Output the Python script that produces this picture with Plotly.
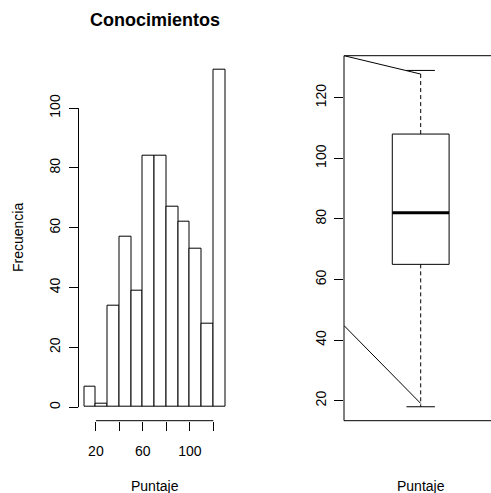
import plotly.graph_objects as go

# ---- data ----
bin_edges = [10, 20, 30, 40, 50, 60, 70, 80, 90, 100, 110, 120, 130]
counts = [7, 1, 34, 57, 39, 84, 84, 67, 62, 53, 28, 113]
hist_xticks = [20, 40, 60, 80, 100, 120]
hist_xticklabels = ["20", "", "60", "", "100", ""]
hist_yticks = [0, 20, 40, 60, 80, 100]

box_min = 18
box_q1 = 65
box_median = 82
box_q3 = 108
box_max = 129
box_yticks = [20, 40, 60, 80, 100, 120]

diag_top_x = [0.46, 1.0]
diag_top_y = [133.86, 127.8]
diag_bot_x = [0.46, 1.0]
diag_bot_y = [44.8, 19.1]

title_text = "Conocimientos"
ylabel_text = "Frecuencia"
xlabel_left = "Puntaje"
xlabel_right = "Puntaje"

# ---- layout constants ----
W, H = 491, 493
FONT = "Liberation Sans, Arial, Helvetica, sans-serif"
top_px, bot_px = 55.7, 420.7
ydom = [1 - bot_px / H, 1 - top_px / H]
xdom1 = [78.5 / W, 230.7 / W]
xdom2 = [344.0 / W, 1.0]

centers = [(a + b) / 2 for a, b in zip(bin_edges[:-1], bin_edges[1:])]
widths = [b - a for a, b in zip(bin_edges[:-1], bin_edges[1:])]

fig = go.Figure()

fig.add_trace(go.Bar(
    x=centers, y=counts, width=widths,
    marker=dict(color="white", line=dict(color="black", width=1)),
    xaxis="x", yaxis="y", showlegend=False, hoverinfo="skip",
))

line_k = dict(color="black", width=1)
bx = 1.0
hw = 0.2
sw = 0.1
# box outline
fig.add_trace(go.Scatter(
    x=[bx - hw, bx + hw, bx + hw, bx - hw, bx - hw],
    y=[box_q1, box_q1, box_q3, box_q3, box_q1],
    mode="lines", line=line_k, xaxis="x2", yaxis="y2", showlegend=False, hoverinfo="skip"))
# median
fig.add_trace(go.Scatter(
    x=[bx - hw, bx + hw], y=[box_median, box_median],
    mode="lines", line=dict(color="black", width=3), xaxis="x2", yaxis="y2", showlegend=False, hoverinfo="skip"))
# whiskers
for y0, y1 in [(box_q3, box_max), (box_q1, box_min)]:
    fig.add_trace(go.Scatter(
        x=[bx, bx], y=[y0, y1], mode="lines",
        line=dict(color="black", width=1, dash="4px,3px"),
        xaxis="x2", yaxis="y2", showlegend=False, hoverinfo="skip"))
# staples
for yv in [box_max, box_min]:
    fig.add_trace(go.Scatter(
        x=[bx - sw, bx + sw], y=[yv, yv], mode="lines", line=line_k,
        xaxis="x2", yaxis="y2", showlegend=False, hoverinfo="skip"))
# diagonal lines
for xs, ys in [(diag_top_x, diag_top_y), (diag_bot_x, diag_bot_y)]:
    fig.add_trace(go.Scatter(
        x=xs, y=ys, mode="lines", line=line_k, cliponaxis=False,
        xaxis="x2", yaxis="y2", showlegend=False, hoverinfo="skip"))

tickfont = dict(family=FONT, size=14, color="black")
common = dict(showgrid=False, zeroline=False, showline=False, ticks="outside",
              ticklen=9, tickwidth=1, tickcolor="black", tickfont=tickfont)

fig.update_layout(
    width=W, height=H,
    margin=dict(l=0, r=0, t=0, b=0),
    paper_bgcolor="white", plot_bgcolor="white",
    bargap=0,
    xaxis=dict(domain=xdom1, range=[5.2, 134.8], anchor="y",
               tickmode="array", tickvals=hist_xticks, ticktext=hist_xticklabels,
               ticklabelstandoff=8, **common),
    yaxis=dict(domain=ydom, range=[-4.52, 117.52], anchor="x",
               tickmode="array", tickvals=hist_yticks, tickangle=-90,
               ticklabelstandoff=3, **common),
    xaxis2=dict(domain=xdom2, range=[0.46, 1.495], anchor="y2",
                showgrid=False, zeroline=False, showline=False, showticklabels=False, ticks=""),
    yaxis2=dict(domain=ydom, range=[13.4, 133.86], anchor="x2",
                tickmode="array", tickvals=box_yticks, tickangle=-90,
                ticklabelstandoff=2, **common),
    font=dict(family=FONT, size=14, color="black"),
)

shapes = [
    # histogram axis lines (R style: span tick range only)
    dict(type="line", xref="x", yref="y domain", x0=hist_xticks[0], x1=hist_xticks[-1], y0=0, y1=0,
         line=dict(color="black", width=1)),
    dict(type="line", xref="x domain", yref="y", x0=0, x1=0, y0=hist_yticks[0], y1=hist_yticks[-1],
         line=dict(color="black", width=1)),
    # boxplot frame
    dict(type="line", xref="x2 domain", yref="y2 domain", x0=0, x1=0, y0=0, y1=1,
         line=dict(color="black", width=1)),
    dict(type="line", xref="x2 domain", yref="y2 domain", x0=0, x1=1, y0=1, y1=1,
         line=dict(color="black", width=1)),
    dict(type="line", xref="x2 domain", yref="y2 domain", x0=0, x1=1, y0=0, y1=0,
         line=dict(color="black", width=1)),
]
fig.update_layout(shapes=shapes)

ann = [
    dict(text="<b>" + title_text + "</b>", x=155 / W, y=1 - 20.5 / H, xref="paper", yref="paper",
         showarrow=False, xanchor="center", yanchor="middle", font=dict(family=FONT, size=18)),
    dict(text=ylabel_text, x=18 / W, y=1 - 238 / H, xref="paper", yref="paper", textangle=-90,
         showarrow=False, xanchor="center", yanchor="middle", font=dict(family=FONT, size=14)),
    dict(text=xlabel_left, x=154.6 / W, y=1 - 486 / H, xref="paper", yref="paper",
         showarrow=False, xanchor="center", yanchor="middle", font=dict(family=FONT, size=14)),
    dict(text=xlabel_right, x=420.7 / W, y=1 - 486 / H, xref="paper", yref="paper",
         showarrow=False, xanchor="center", yanchor="middle", font=dict(family=FONT, size=14)),
]
fig.update_layout(annotations=ann)

fig.write_html("out.html")
